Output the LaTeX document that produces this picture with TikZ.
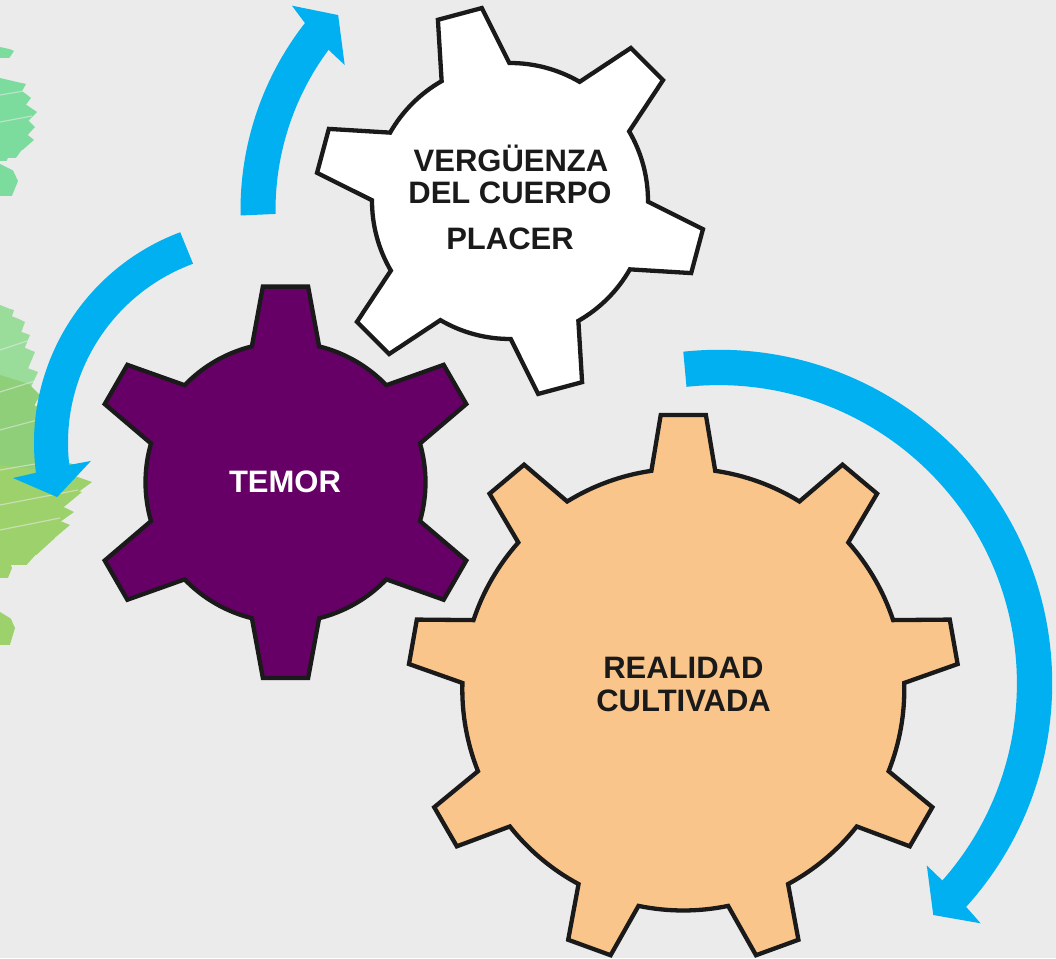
\documentclass[tikz,border=0pt]{standalone}
\usepackage{fontspec}
\setmainfont{Liberation Sans}
\usetikzlibrary{calc}
\definecolor{bg}{HTML}{EBEBEB}
\definecolor{arrowblue}{HTML}{00B0F0}
\definecolor{gearpurple}{HTML}{660066}
\definecolor{gearorange}{HTML}{FAC58A}
\definecolor{outline}{HTML}{1A1A1A}
\definecolor{mint}{HTML}{5CD888}
\definecolor{leafA}{HTML}{84D884}
\definecolor{leafB}{HTML}{76C85A}
\definecolor{leafC}{HTML}{86CA48}
% #1 style, #2 centre, #3 teeth, #4 first tooth angle, #5 body radius, #6 outer radius, #7 tip half angle, #8 base half angle
\newcommand{\drawgear}[8]{%
  \draw[#1] ($(#2)+({#4-#8}:#5)$)
  \foreach \k in {1,...,#3}{%
    -- ($(#2)+({#4+(\k-1)*360/#3-#7}:#6)$)
    -- ($(#2)+({#4+(\k-1)*360/#3+#7}:#6)$)
    -- ($(#2)+({#4+(\k-1)*360/#3+#8}:#5)$)
    arc[start angle={#4+(\k-1)*360/#3+#8}, end angle={#4+\k*360/#3-#8}, radius=#5]
  } -- cycle;}
% brush stroke: #1 y top, #2 y bottom, #3 x end, #4 y of end, #5 colour
\newcommand{\brushstroke}[5]{%
  \fill[#5] (0,#1) -- ({0.72*#3},{#1+0.2*(#2-#1)}) -- (#3,#4) -- ({0.66*#3},#2) -- (0,#2) -- cycle;}
\newcommand{\streak}[3]{%
  \draw[bg, line width=1.2pt, opacity=0.55] (0,#1) -- (#2,#3);}
\begin{document}
\begin{tikzpicture}[x=1pt,y=1pt,
  gearline/.style={draw=outline, line width=4.3pt, line join=miter, miter limit=4},
  arrowfill/.style={fill=arrowblue},
  darklabel/.style={text=outline, font=\bfseries\fontsize{31}{31}\selectfont, inner sep=0pt, anchor=base},
  lightlabel/.style={text=white, font=\bfseries\fontsize{31}{31}\selectfont, inner sep=0pt, anchor=base}]
\fill[bg] (0,0) rectangle (1056,958);
\useasboundingbox (0,0) rectangle (1056,958);

% green brush strokes (image coordinates)
\begin{scope}[shift={(0,958)}, yscale=-1]
 \begin{scope}[transparency group, opacity=0.78]
  \brushstroke{47}{58}{14}{51}{mint}
  \brushstroke{78}{100}{26}{84}{mint}
  \brushstroke{86}{112}{31}{98}{mint}
  \brushstroke{100}{125}{37}{112}{mint}
  \brushstroke{112}{140}{35}{127}{mint}
  \brushstroke{128}{150}{34}{140}{mint}
  \brushstroke{138}{158}{24}{147}{mint}
  \brushstroke{150}{161}{10}{153}{mint}
  \brushstroke{164}{196}{18}{181}{mint}
  \brushstroke{305}{325}{14}{310}{leafA}
  \brushstroke{312}{345}{25}{322}{leafA}
  \brushstroke{325}{360}{30}{335}{leafA}
  \brushstroke{340}{380}{35}{352}{leafA}
  \brushstroke{360}{400}{38}{372}{leafA}
  \brushstroke{375}{420}{40}{395}{leafB}
  \brushstroke{395}{440}{44}{410}{leafB}
  \brushstroke{415}{460}{50}{430}{leafB}
  \brushstroke{430}{480}{62}{450}{leafB}
  \brushstroke{450}{495}{76}{465}{leafB}
  \brushstroke{465}{505}{92}{482}{leafC}
  \brushstroke{480}{515}{82}{492}{leafC}
  \brushstroke{495}{530}{74}{512}{leafC}
  \brushstroke{510}{545}{70}{525}{leafC}
  \brushstroke{525}{555}{55}{538}{leafC}
  \brushstroke{540}{565}{40}{550}{leafC}
  \brushstroke{553}{578}{12}{568}{leafC}
  \brushstroke{612}{645}{15}{628}{leafC}
 \end{scope}
  \streak{95}{30}{90}
  \streak{122}{32}{116}
  \streak{350}{30}{340}
  \streak{392}{38}{380}
  \streak{430}{45}{418}
  \streak{470}{70}{458}
  \streak{505}{78}{490}
  \streak{530}{60}{518}
\end{scope}

% arrow centres
\coordinate (A1) at (544.5,747.8);
\coordinate (A2) at (259,515);
\coordinate (A3) at (718.7,274.7);

% top arrow
\fill[arrowfill] ($(A1)+(181:304)$) arc[start angle=181, end angle=142, radius=304]
  -- ($(A1)+(141:325)$) -- ($(A1)+(136.6:284)$) -- ($(A1)+(144:247)$)
  -- ($(A1)+(143.4:269)$) arc[start angle=143.4, end angle=180.8, radius=269] -- cycle;
% left arrow
\fill[arrowfill] ($(A2)+(110.5:225)$) arc[start angle=110.5, end angle=187.6, radius=225]
  -- ($(A2)+(188.1:248.5)$) -- ($(A2)+(195:209)$) -- ($(A2)+(186.1:169)$)
  -- ($(A2)+(186.6:191)$) arc[start angle=186.6, end angle=110.2, radius=191] -- cycle;
% right arrow
\fill[arrowfill] ($(A3)+(96.1:333.5)$) arc[start angle=96.1, end angle=-42.1, radius=333.5]
  -- ($(A3)+(-42.5:355.3)$) -- ($(A3)+(-47.2:315.8)$) -- ($(A3)+(-41.2:276.6)$)
  -- ($(A3)+(-41.4:298.2)$) arc[start angle=-41.4, end angle=96.2, radius=298.2] -- cycle;

% gears
\coordinate (GW) at (510,757);
\coordinate (GP) at (285.5,475.7);
\coordinate (GO) at (683.3,268.5);
\drawgear{gearline, fill=white}{GW}{6}{105}{138}{195}{6.7}{14.7}
\drawgear{gearline, fill=gearpurple}{GP}{6}{90}{140}{197}{6.6}{13.9}
\drawgear{gearline, fill=gearorange}{GO}{9}{90}{221}{275.5}{4.7}{8.3}

% labels
\node[darklabel] (vg1) at (511,786) {VERGÜENZA};
\node[darklabel] (vg2) at (510,754) {DEL CUERPO};
\node[darklabel] (pl) at (510,708) {PLACER};
\node[lightlabel] (te) at (285,465) {TEMOR};
\node[darklabel] (re1) at (683.4,279.7) {REALIDAD};
\node[darklabel] (re2) at (683.6,246.3) {CULTIVADA};
\end{tikzpicture}
\end{document}
